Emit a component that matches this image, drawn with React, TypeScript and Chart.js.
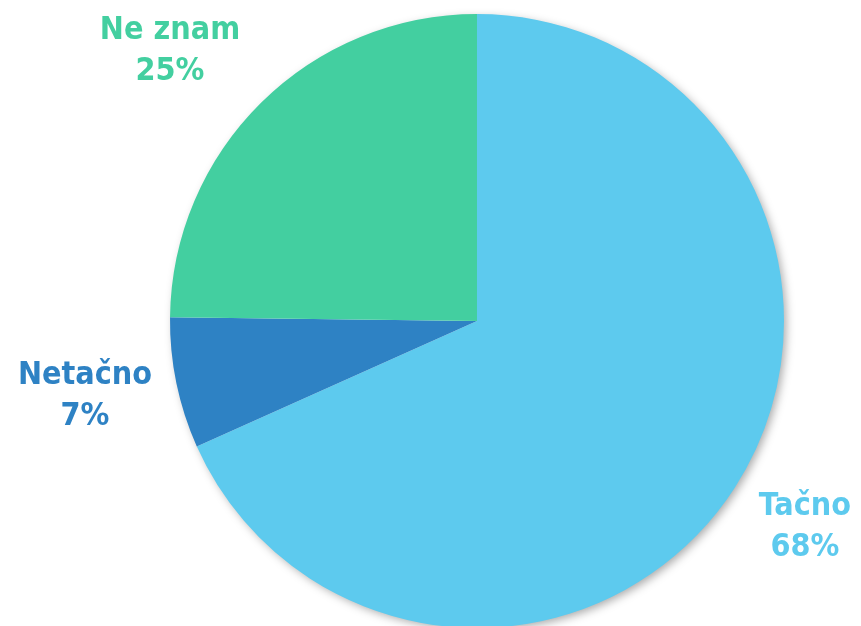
import React, { useEffect, useRef } from "react";
import { Chart, registerables } from "chart.js";

Chart.register(...registerables);

const categories = ["Tačno", "Netačno", "Ne znam"];
const values = [68.3, 6.9, 24.8];
const percentLabels = ["68%", "7%", "25%"];
const colors = ["#5DCAEE", "#2E82C4", "#43CFA0"];
// label anchor (baseline of first line) relative to pie centre, in units of radius
const labelOffsets = [
  [1.068, 0.632],
  [-1.277, 0.205],
  [-1.0, -0.919],
];

const shadowPlugin = {
  id: "pieShadow",
  beforeDatasetsDraw(chart: any) {
    const arc = chart.getDatasetMeta(0).data[0];
    if (!arc) return;
    const { x, y, outerRadius } = arc.getProps(["x", "y", "outerRadius"], true);
    const ctx = chart.ctx;
    ctx.save();
    ctx.shadowColor = "rgba(0,0,0,0.35)";
    ctx.shadowBlur = 10;
    ctx.shadowOffsetX = 3;
    ctx.shadowOffsetY = 3;
    ctx.fillStyle = "#ffffff";
    ctx.beginPath();
    ctx.arc(x, y, outerRadius - 1, 0, Math.PI * 2);
    ctx.fill();
    ctx.restore();
  },
};

const labelPlugin = {
  id: "outsideLabels",
  afterDatasetsDraw(chart: any) {
    const meta = chart.getDatasetMeta(0);
    const ctx = chart.ctx;
    ctx.save();
    ctx.font = "bold 32px 'DejaVu Sans Condensed', 'DejaVu Sans', sans-serif";
    ctx.textAlign = "center";
    ctx.textBaseline = "alphabetic";
    meta.data.forEach((arc: any, i: number) => {
      const { x, y, outerRadius } = arc.getProps(["x", "y", "outerRadius"], true);
      const lx = x + labelOffsets[i][0] * outerRadius;
      const ly = y + labelOffsets[i][1] * outerRadius;
      ctx.fillStyle = colors[i];
      ctx.fillText(categories[i], lx, ly);
      ctx.fillText(percentLabels[i], lx, ly + 41);
    });
    ctx.restore();
  },
};

export default function App() {
  const ref = useRef<HTMLCanvasElement | null>(null);
  useEffect(() => {
    document.body.style.margin = "0";
    if (!ref.current) return;
    const chart = new Chart(ref.current, {
      type: "pie",
      data: {
        labels: categories,
        datasets: [
          {
            data: values,
            backgroundColor: colors,
            borderWidth: 0,
            radius: 307,
          } as any,
        ],
      },
      options: {
        animation: false,
        responsive: false,
        events: [],
        layout: { padding: { left: 170, right: 77, top: 16, bottom: 0 } },
        plugins: {
          legend: { display: false },
          tooltip: { enabled: false },
        },
      },
      plugins: [shadowPlugin, labelPlugin],
    });
    return () => chart.destroy();
  }, []);
  return (
    <div style={{ width: 861, height: 626, background: "#fff" }}>
      <canvas ref={ref} width={861} height={626} style={{ display: "block" }} />
    </div>
  );
}
